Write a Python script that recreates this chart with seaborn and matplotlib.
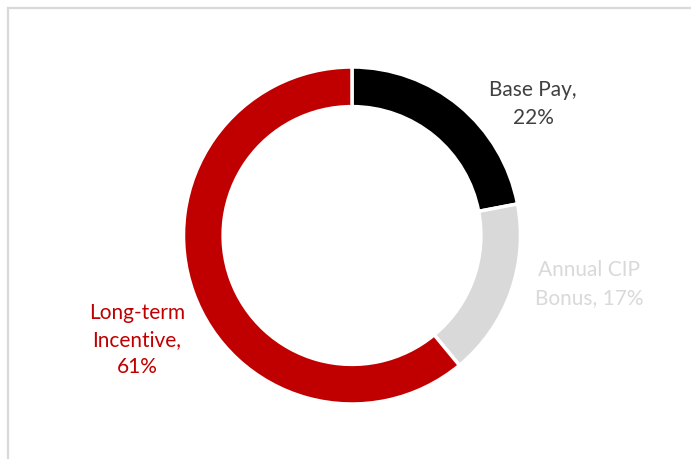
import matplotlib
matplotlib.use("Agg")
import matplotlib.pyplot as plt
from matplotlib.patches import Rectangle
import seaborn as sns

# Compensation mix
categories = ["Base Pay", "Annual CIP Bonus", "Long-term Incentive"]
shares = [22, 17, 61]
label_lines = [["Base Pay,", "22%"], ["Annual CIP", "Bonus, 17%"], ["Long-term", "Incentive,", "61%"]]
slice_colors = ["#000000", "#d9d9d9", "#c00000"]
text_colors = ["#404040", "#d9d9d9", "#c00000"]

sns.set_theme(style="white")
plt.rcParams["font.family"] = ["Lato", "DejaVu Sans"]

W, H = 691, 459
fig = plt.figure(figsize=(W / 100, H / 100), dpi=100)
ax = fig.add_axes([0, 0, 1, 1])
ax.set_xlim(0, W)
ax.set_ylim(0, H)
ax.set_aspect("equal")
ax.axis("off")

cx, cy, r = 352, H - 235.5, 168.5
ax.pie(shares, colors=slice_colors, startangle=90, counterclock=False,
       center=(cx, cy), radius=r, frame=True,
       wedgeprops=dict(width=r * 0.235, edgecolor="white", linewidth=2.5))
ax.set_xlim(0, W)
ax.set_ylim(0, H)
ax.axis("off")

# Label positions (pixel coords, top-origin) for each category
label_pos = [(533, 104), (589, 284), (137, 340)]
for lines, (lx, ly), col in zip(label_lines, label_pos, text_colors):
    ax.text(lx, H - ly, "\n".join(lines), ha="center", va="center",
            color=col, fontsize=15, linespacing=1.45)

# Light chart-area frame
fig.add_artist(Rectangle((7.5 / W, -0.5), 2.0, 1.5 - 7.5 / H, transform=fig.transFigure,
                         fill=False, edgecolor="#d9d9d9", linewidth=1.6))

fig.savefig("out.png", dpi=100)
